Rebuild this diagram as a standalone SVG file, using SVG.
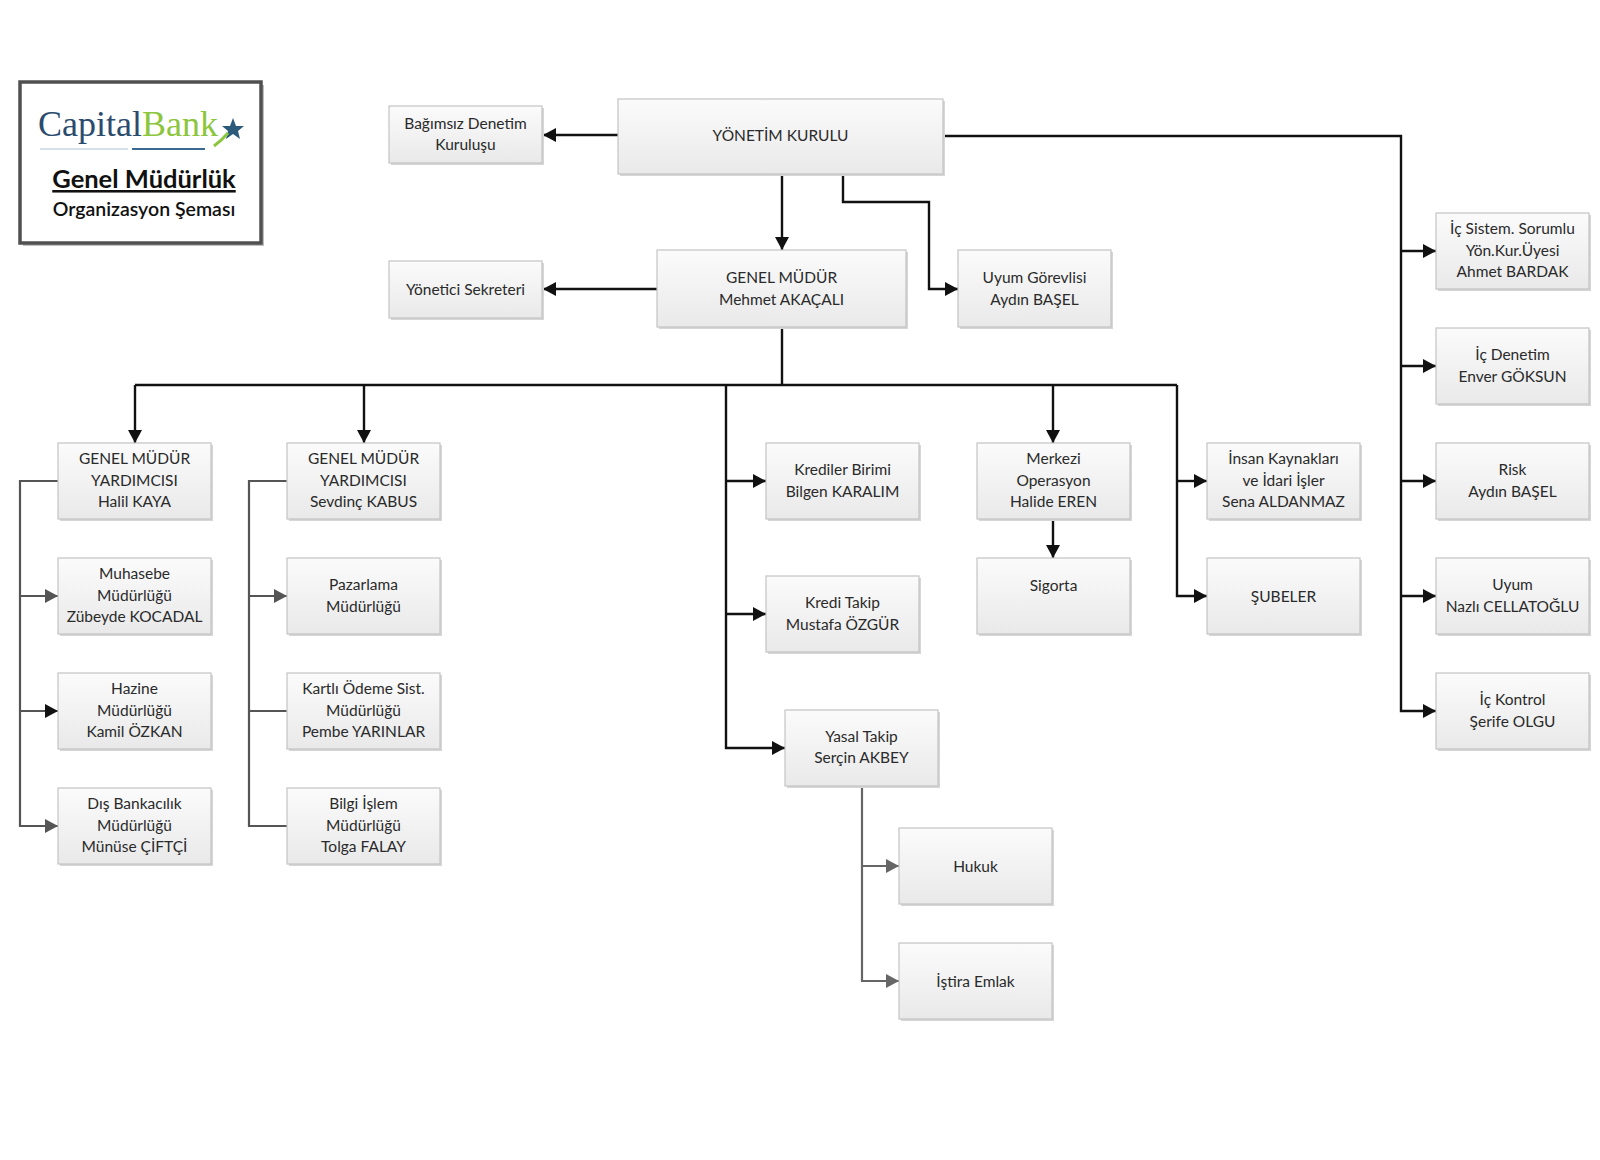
<svg xmlns="http://www.w3.org/2000/svg" width="1600" height="1160" viewBox="0 0 1600 1160">
<defs>
<linearGradient id="bg" x1="0" y1="0" x2="0" y2="1">
<stop offset="0" stop-color="#fbfbfb"/>
<stop offset="1" stop-color="#e9e9e9"/>
</linearGradient>
<marker id="ab" markerUnits="userSpaceOnUse" markerWidth="13" markerHeight="14" refX="13" refY="7" orient="auto">
<path d="M0,0 L13,7 L0,14 z" fill="#111"/>
</marker>
<marker id="ag" markerUnits="userSpaceOnUse" markerWidth="13" markerHeight="14" refX="13" refY="7" orient="auto">
<path d="M0,0 L13,7 L0,14 z" fill="#555"/>
</marker>
<marker id="ag2" markerUnits="userSpaceOnUse" markerWidth="13" markerHeight="14" refX="13" refY="7" orient="auto">
<path d="M0,0 L13,7 L0,14 z" fill="#666"/>
</marker>
</defs>
<style>
.bx{fill:url(#bg);stroke:#c4c4c4;stroke-width:1.2}
.sh{fill:#d6d6d6}
.t{font-family:Lato,"Liberation Sans",sans-serif;font-size:15.5px;fill:#2a2a2a;text-anchor:middle}
.k{fill:none;stroke:#111;stroke-width:2.4}
.g{fill:none;stroke:#555;stroke-width:2.2}
.g2{fill:none;stroke:#666;stroke-width:2.2}
</style>
<rect width="1600" height="1160" fill="#fff"/>

<g id="logo">
<rect x="23" y="85" width="241" height="161" fill="#bdbdbd"/>
<rect x="20" y="82" width="241" height="161" fill="#fff" stroke="#505050" stroke-width="3.5"/>
<text x="38" y="136" font-family="Liberation Serif,serif" font-size="36" fill="#2b4c6e">Capital<tspan fill="#8cc63e">Bank</tspan></text>
<polygon points="233,118 236,126 244,126 238,131 240,139 233,134 226,139 228,131 222,126 230,126" fill="#2b5a7a"/>
<path d="M214,146 Q222,140 228,133" stroke="#8cc63e" stroke-width="3" fill="none"/>
<line x1="40" y1="149" x2="128" y2="149" stroke="#c9d6e0" stroke-width="1.5"/>
<line x1="132" y1="149" x2="205" y2="149" stroke="#3a6a8f" stroke-width="2.2"/>
<text x="144" y="188" font-family="Lato,'Liberation Sans',sans-serif" font-size="25.5" font-weight="bold" fill="#111" text-anchor="middle" text-decoration="underline">Genel Müdürlük</text>
<text x="144" y="216" font-family="Lato,'Liberation Sans',sans-serif" font-size="19.5" font-weight="600" fill="#111" text-anchor="middle">Organizasyon Şeması</text>
</g>

<g id="connectors">
<path class="k" d="M618,135 H543" marker-end="url(#ab)"/>
<path class="k" d="M782,174 V250" marker-end="url(#ab)"/>
<path class="k" d="M843,174 V202 H929 V289 H958" marker-end="url(#ab)"/>
<path class="k" d="M943,136 H1401 V711 H1436" marker-end="url(#ab)"/>
<path class="k" d="M1401,251 H1436" marker-end="url(#ab)"/>
<path class="k" d="M1401,366 H1436" marker-end="url(#ab)"/>
<path class="k" d="M1401,481 H1436" marker-end="url(#ab)"/>
<path class="k" d="M1401,596 H1436" marker-end="url(#ab)"/>
<path class="k" d="M657,289 H543" marker-end="url(#ab)"/>
<path class="k" d="M782,327 V385"/>
<path class="k" d="M135,385 H1177"/>
<path class="k" d="M135,385 V443" marker-end="url(#ab)"/>
<path class="k" d="M364,385 V443" marker-end="url(#ab)"/>
<path class="k" d="M1053,385 V443" marker-end="url(#ab)"/>
<path class="k" d="M726,385 V748 H785" marker-end="url(#ab)"/>
<path class="k" d="M726,481 H766" marker-end="url(#ab)"/>
<path class="k" d="M726,614 H766" marker-end="url(#ab)"/>
<path class="k" d="M1177,385 V596 H1207" marker-end="url(#ab)"/>
<path class="k" d="M1177,481 H1207" marker-end="url(#ab)"/>
<path class="k" d="M1053,519 V558" marker-end="url(#ab)"/>
<path class="g" d="M58,481 H20 V826 H58" marker-end="url(#ag)"/>
<path class="g" d="M20,596 H58" marker-end="url(#ag)"/>
<path class="g" d="M20,711 H58" marker-end="url(#ab)"/>
<path class="g" d="M287,481 H249 V826 H287"/>
<path class="g" d="M249,596 H287" marker-end="url(#ag)"/>
<path class="g" d="M249,711 H287"/>
<path class="g2" d="M862,787 V981 H899" marker-end="url(#ag2)"/>
<path class="g2" d="M862,866 H899" marker-end="url(#ag2)"/>
</g>

<g id="n-bagimsiz"><rect class="sh" x="391" y="108" width="153" height="57"/><rect class="bx" x="389" y="106" width="153" height="57"/><text class="t" x="465.5" y="129">Bağımsız Denetim</text><text class="t" x="465.5" y="150">Kuruluşu</text></g>
<g id="n-yk"><rect class="sh" x="620" y="101" width="325" height="75"/><rect class="bx" x="618" y="99" width="325" height="75"/><text class="t" x="780.5" y="141">YÖNETİM KURULU</text></g>
<g id="n-ys"><rect class="sh" x="391" y="263" width="153" height="57"/><rect class="bx" x="389" y="261" width="153" height="57"/><text class="t" x="465.5" y="295">Yönetici Sekreteri</text></g>
<g id="n-gm"><rect class="sh" x="659" y="252" width="249" height="77"/><rect class="bx" x="657" y="250" width="249" height="77"/><text class="t" x="781.5" y="283">GENEL MÜDÜR</text><text class="t" x="781.5" y="305">Mehmet AKAÇALI</text></g>
<g id="n-uyumg"><rect class="sh" x="960" y="252" width="153" height="77"/><rect class="bx" x="958" y="250" width="153" height="77"/><text class="t" x="1034.5" y="283">Uyum Görevlisi</text><text class="t" x="1034.5" y="305">Aydın BAŞEL</text></g>

<g id="n-halil"><rect class="sh" x="60" y="445" width="153" height="76"/><rect class="bx" x="58" y="443" width="153" height="76"/><text class="t" x="134.5" y="464">GENEL MÜDÜR</text><text class="t" x="134.5" y="485.5">YARDIMCISI</text><text class="t" x="134.5" y="507">Halil KAYA</text></g>
<g id="n-muhasebe"><rect class="sh" x="60" y="560" width="153" height="76"/><rect class="bx" x="58" y="558" width="153" height="76"/><text class="t" x="134.5" y="579">Muhasebe</text><text class="t" x="134.5" y="600.5">Müdürlüğü</text><text class="t" x="134.5" y="622">Zübeyde KOCADAL</text></g>
<g id="n-hazine"><rect class="sh" x="60" y="675" width="153" height="76"/><rect class="bx" x="58" y="673" width="153" height="76"/><text class="t" x="134.5" y="694">Hazine</text><text class="t" x="134.5" y="715.5">Müdürlüğü</text><text class="t" x="134.5" y="737">Kamil ÖZKAN</text></g>
<g id="n-dis"><rect class="sh" x="60" y="790" width="153" height="76"/><rect class="bx" x="58" y="788" width="153" height="76"/><text class="t" x="134.5" y="809">Dış Bankacılık</text><text class="t" x="134.5" y="830.5">Müdürlüğü</text><text class="t" x="134.5" y="852">Münüse ÇİFTÇİ</text></g>

<g id="n-sevdinc"><rect class="sh" x="289" y="445" width="153" height="76"/><rect class="bx" x="287" y="443" width="153" height="76"/><text class="t" x="363.5" y="464">GENEL MÜDÜR</text><text class="t" x="363.5" y="485.5">YARDIMCISI</text><text class="t" x="363.5" y="507">Sevdinç KABUS</text></g>
<g id="n-pazarlama"><rect class="sh" x="289" y="560" width="153" height="76"/><rect class="bx" x="287" y="558" width="153" height="76"/><text class="t" x="363.5" y="590">Pazarlama</text><text class="t" x="363.5" y="612">Müdürlüğü</text></g>
<g id="n-kartli"><rect class="sh" x="289" y="675" width="153" height="76"/><rect class="bx" x="287" y="673" width="153" height="76"/><text class="t" x="363.5" y="694">Kartlı Ödeme Sist.</text><text class="t" x="363.5" y="715.5">Müdürlüğü</text><text class="t" x="363.5" y="737">Pembe YARINLAR</text></g>
<g id="n-bilgi"><rect class="sh" x="289" y="790" width="153" height="76"/><rect class="bx" x="287" y="788" width="153" height="76"/><text class="t" x="363.5" y="809">Bilgi İşlem</text><text class="t" x="363.5" y="830.5">Müdürlüğü</text><text class="t" x="363.5" y="852">Tolga FALAY</text></g>

<g id="n-krediler"><rect class="sh" x="768" y="445" width="153" height="76"/><rect class="bx" x="766" y="443" width="153" height="76"/><text class="t" x="842.5" y="475">Krediler Birimi</text><text class="t" x="842.5" y="497">Bilgen KARALIM</text></g>
<g id="n-kreditakip"><rect class="sh" x="768" y="578" width="153" height="76"/><rect class="bx" x="766" y="576" width="153" height="76"/><text class="t" x="842.5" y="608">Kredi Takip</text><text class="t" x="842.5" y="630">Mustafa ÖZGÜR</text></g>
<g id="n-yasal"><rect class="sh" x="787" y="712" width="153" height="76"/><rect class="bx" x="785" y="710" width="153" height="76"/><text class="t" x="861.5" y="742">Yasal Takip</text><text class="t" x="861.5" y="763">Serçin AKBEY</text></g>
<g id="n-hukuk"><rect class="sh" x="901" y="830" width="153" height="76"/><rect class="bx" x="899" y="828" width="153" height="76"/><text class="t" x="975.5" y="871.5">Hukuk</text></g>
<g id="n-istira"><rect class="sh" x="901" y="945" width="153" height="76"/><rect class="bx" x="899" y="943" width="153" height="76"/><text class="t" x="975.5" y="986.5">İştira Emlak</text></g>

<g id="n-merkezi"><rect class="sh" x="979" y="445" width="153" height="76"/><rect class="bx" x="977" y="443" width="153" height="76"/><text class="t" x="1053.5" y="464">Merkezi</text><text class="t" x="1053.5" y="485.5">Operasyon</text><text class="t" x="1053.5" y="507">Halide EREN</text></g>
<g id="n-sigorta"><rect class="sh" x="979" y="560" width="153" height="76"/><rect class="bx" x="977" y="558" width="153" height="76"/><text class="t" x="1053.5" y="590.5">Sigorta</text></g>

<g id="n-insan"><rect class="sh" x="1209" y="445" width="153" height="76"/><rect class="bx" x="1207" y="443" width="153" height="76"/><text class="t" x="1283.5" y="464">İnsan Kaynakları</text><text class="t" x="1283.5" y="485.5">ve İdari İşler</text><text class="t" x="1283.5" y="507">Sena ALDANMAZ</text></g>
<g id="n-subeler"><rect class="sh" x="1209" y="560" width="153" height="76"/><rect class="bx" x="1207" y="558" width="153" height="76"/><text class="t" x="1283.5" y="601.5">ŞUBELER</text></g>

<g id="n-icsistem"><rect class="sh" x="1438" y="215" width="153" height="76"/><rect class="bx" x="1436" y="213" width="153" height="76"/><text class="t" x="1512.5" y="234">İç Sistem. Sorumlu</text><text class="t" x="1512.5" y="255.5">Yön.Kur.Üyesi</text><text class="t" x="1512.5" y="277">Ahmet BARDAK</text></g>
<g id="n-icdenetim"><rect class="sh" x="1438" y="330" width="153" height="76"/><rect class="bx" x="1436" y="328" width="153" height="76"/><text class="t" x="1512.5" y="360">İç Denetim</text><text class="t" x="1512.5" y="382">Enver GÖKSUN</text></g>
<g id="n-risk"><rect class="sh" x="1438" y="445" width="153" height="76"/><rect class="bx" x="1436" y="443" width="153" height="76"/><text class="t" x="1512.5" y="475">Risk</text><text class="t" x="1512.5" y="497">Aydın BAŞEL</text></g>
<g id="n-uyum"><rect class="sh" x="1438" y="560" width="153" height="76"/><rect class="bx" x="1436" y="558" width="153" height="76"/><text class="t" x="1512.5" y="590">Uyum</text><text class="t" x="1512.5" y="612">Nazlı CELLATOĞLU</text></g>
<g id="n-ickontrol"><rect class="sh" x="1438" y="675" width="153" height="76"/><rect class="bx" x="1436" y="673" width="153" height="76"/><text class="t" x="1512.5" y="705">İç Kontrol</text><text class="t" x="1512.5" y="727">Şerife OLGU</text></g>
</svg>
